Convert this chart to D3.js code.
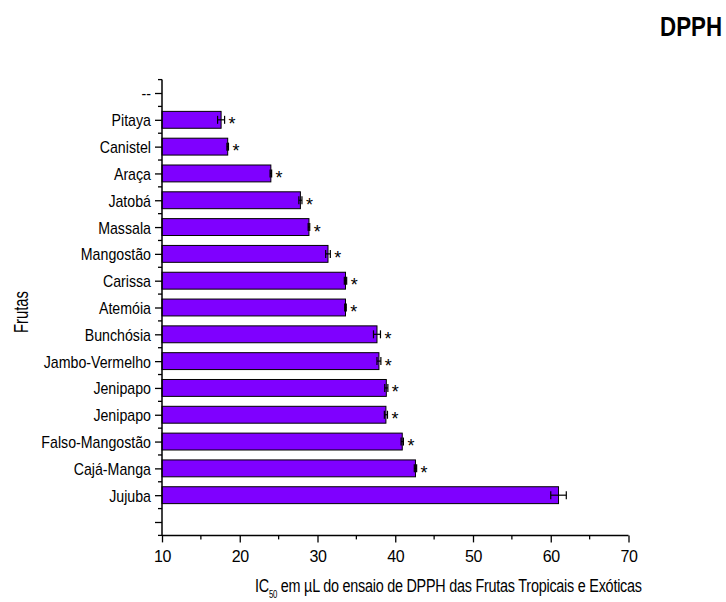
<!DOCTYPE html>
<html>
<head>
<meta charset="utf-8">
<script src="https://cdn.jsdelivr.net/npm/d3@7"></script>
<style>
  html, body { margin: 0; padding: 0; background: #fff; }
  svg { display: block; }
  text { fill: #000; }
</style>
</head>
<body>
<svg id="chart" width="726" height="602"></svg>
<script>
// Fruit names, top to bottom (first and last slots are placeholders on the axis)
const fruits = ["--", "Pitaya", "Canistel", "Araça", "Jatobá", "Massala", "Mangostão", "Carissa",
  "Atemóia", "Bunchósia", "Jambo-Vermelho", "Jenipapo", "Jenipapo", "Falso-Mangostão",
  "Cajá-Manga", "Jujuba", ""];
// IC50 values (µL) per fruit; null where no bar is drawn
const ic50 = [null, 17.6, 18.45, 24.0, 27.8, 28.9, 31.35, 33.6, 33.6, 37.65, 37.9, 38.85, 38.8,
  40.9, 42.6, 61.0, null];
// Standard deviations
const sd = [null, 0.45, 0.1, 0.1, 0.2, 0.1, 0.3, 0.15, 0.1, 0.45, 0.25, 0.2, 0.2, 0.15, 0.15, 1.0, null];
// Significance markers
const marks = ["", "*", "*", "*", "*", "*", "*", "*", "*", "*", "*", "*", "*", "*", "*", "", ""];
const xTicks = [10, 20, 30, 40, 50, 60, 70];
const xMinorTicks = [15, 25, 35, 45, 55, 65];

const font = "'Liberation Sans', Arial, sans-serif";
const condense = 0.835; // horizontal squeeze of the narrow label face

const svg = d3.select("#chart");
const plotL = 162, plotR = 628.5, plotT = 79.6, plotB = 535.4;

const x = d3.scaleLinear().domain([10, 70]).range([plotL, plotR]);
const y = d3.scalePoint().domain(d3.range(fruits.length)).range([plotT, plotB]).padding(0.5);
const step = y.step();
const barH = step * 0.63;

const rows = fruits.map((f, i) => ({ i, f, v: ic50[i], e: sd[i], m: marks[i] }))
  .filter(d => d.v != null);

// Squeeze a text element horizontally so it spans the given width, anchored at (ax, ay)
function fitWidth(sel, width, ax, ay, rotate) {
  const w = sel.node().getComputedTextLength();
  const k = width / w;
  sel.attr("transform", `translate(${ax},${ay})${rotate ? ` rotate(${rotate})` : ""} scale(${k},1)`);
}

// Bars
svg.append("g").selectAll("rect").data(rows).join("rect")
  .attr("x", x(10))
  .attr("y", d => y(d.i) - barH / 2)
  .attr("width", d => x(d.v) - x(10))
  .attr("height", barH)
  .attr("fill", "#7f00ff")
  .attr("stroke", "#000")
  .attr("stroke-width", 1);

// Error bars
const eb = svg.append("g").attr("stroke", "#000").attr("stroke-width", 1.2);
eb.selectAll("line.h").data(rows).join("line").attr("class", "h")
  .attr("x1", d => x(d.v - d.e)).attr("x2", d => x(d.v + d.e))
  .attr("y1", d => y(d.i)).attr("y2", d => y(d.i));
eb.selectAll("line.c1").data(rows).join("line").attr("class", "c1")
  .attr("x1", d => x(d.v - d.e)).attr("x2", d => x(d.v - d.e))
  .attr("y1", d => y(d.i) - 4).attr("y2", d => y(d.i) + 4);
eb.selectAll("line.c2").data(rows).join("line").attr("class", "c2")
  .attr("x1", d => x(d.v + d.e)).attr("x2", d => x(d.v + d.e))
  .attr("y1", d => y(d.i) - 4).attr("y2", d => y(d.i) + 4);

// Asterisks
svg.append("g").selectAll("text").data(rows.filter(d => d.m)).join("text")
  .attr("x", d => x(d.v + d.e) + 7.5)
  .attr("y", d => y(d.i) + 10.5)
  .attr("text-anchor", "middle")
  .style("font-family", font)
  .style("font-size", "18px")
  .text(d => d.m);

// Y axis (major ticks with fruit names, minor ticks between)
const yAxis = d3.axisLeft(y).tickSize(7).tickPadding(4).tickFormat(i => fruits[i]);
const gy = svg.append("g").attr("transform", `translate(${plotL},0)`).call(yAxis);
gy.select(".domain").remove();
gy.selectAll(".tick line").attr("stroke-width", 1.3);
gy.selectAll(".tick text")
  .style("font-family", font).style("font-size", "17px")
  .attr("dy", "0.35em")
  .attr("x", 0)
  .attr("transform", `translate(-11,0) scale(${condense},1)`);
const yMinor = d3.range(fruits.length + 1).map(k => plotT + k * step);
svg.append("g").selectAll("line").data(yMinor).join("line")
  .attr("x1", plotL - 4).attr("x2", plotL).attr("y1", d => d).attr("y2", d => d)
  .attr("stroke", "#000").attr("stroke-width", 1.3);
svg.append("line").attr("x1", plotL).attr("x2", plotL).attr("y1", plotT).attr("y2", plotB)
  .attr("stroke", "#000").attr("stroke-width", 1.5);

// X axis
const xAxis = d3.axisBottom(x).tickValues(xTicks).tickSize(7).tickPadding(8).tickFormat(d3.format("d"));
const gx = svg.append("g").attr("transform", `translate(0,${plotB})`).call(xAxis);
gx.select(".domain").remove();
gx.selectAll(".tick line").attr("stroke-width", 1.3);
gx.selectAll(".tick text").style("font-family", font).style("font-size", "16px").style("letter-spacing", "-0.5px");
svg.append("g").selectAll("line").data(xMinorTicks).join("line")
  .attr("x1", d => x(d)).attr("x2", d => x(d)).attr("y1", plotB).attr("y2", plotB + 4)
  .attr("stroke", "#000").attr("stroke-width", 1.3);
svg.append("line").attr("x1", plotL).attr("x2", plotR).attr("y1", plotB).attr("y2", plotB)
  .attr("stroke", "#000").attr("stroke-width", 1.5);

// X axis title
const xt = svg.append("text")
  .style("font-family", font).style("font-size", "18.5px").style("letter-spacing", "-0.3px");
xt.append("tspan").text("IC");
xt.append("tspan").attr("dy", 6).style("font-size", "10px").text("50");
xt.append("tspan").attr("dy", -6).text(" em µL do ensaio de DPPH das Frutas Tropicais e Exóticas");
fitWidth(xt, 387, 255, 592);

// Y axis title
const yt = svg.append("text")
  .attr("text-anchor", "middle")
  .style("font-family", font).style("font-size", "20.5px")
  .text("Frutas");
fitWidth(yt, 42, 28, 312, -90);

// Panel title
const pt = svg.append("text").attr("text-anchor", "end")
  .style("font-family", font).style("font-size", "27px").style("font-weight", "bold")
  .text("DPPH");
fitWidth(pt, 62, 722, 36);
</script>
</body>
</html>
